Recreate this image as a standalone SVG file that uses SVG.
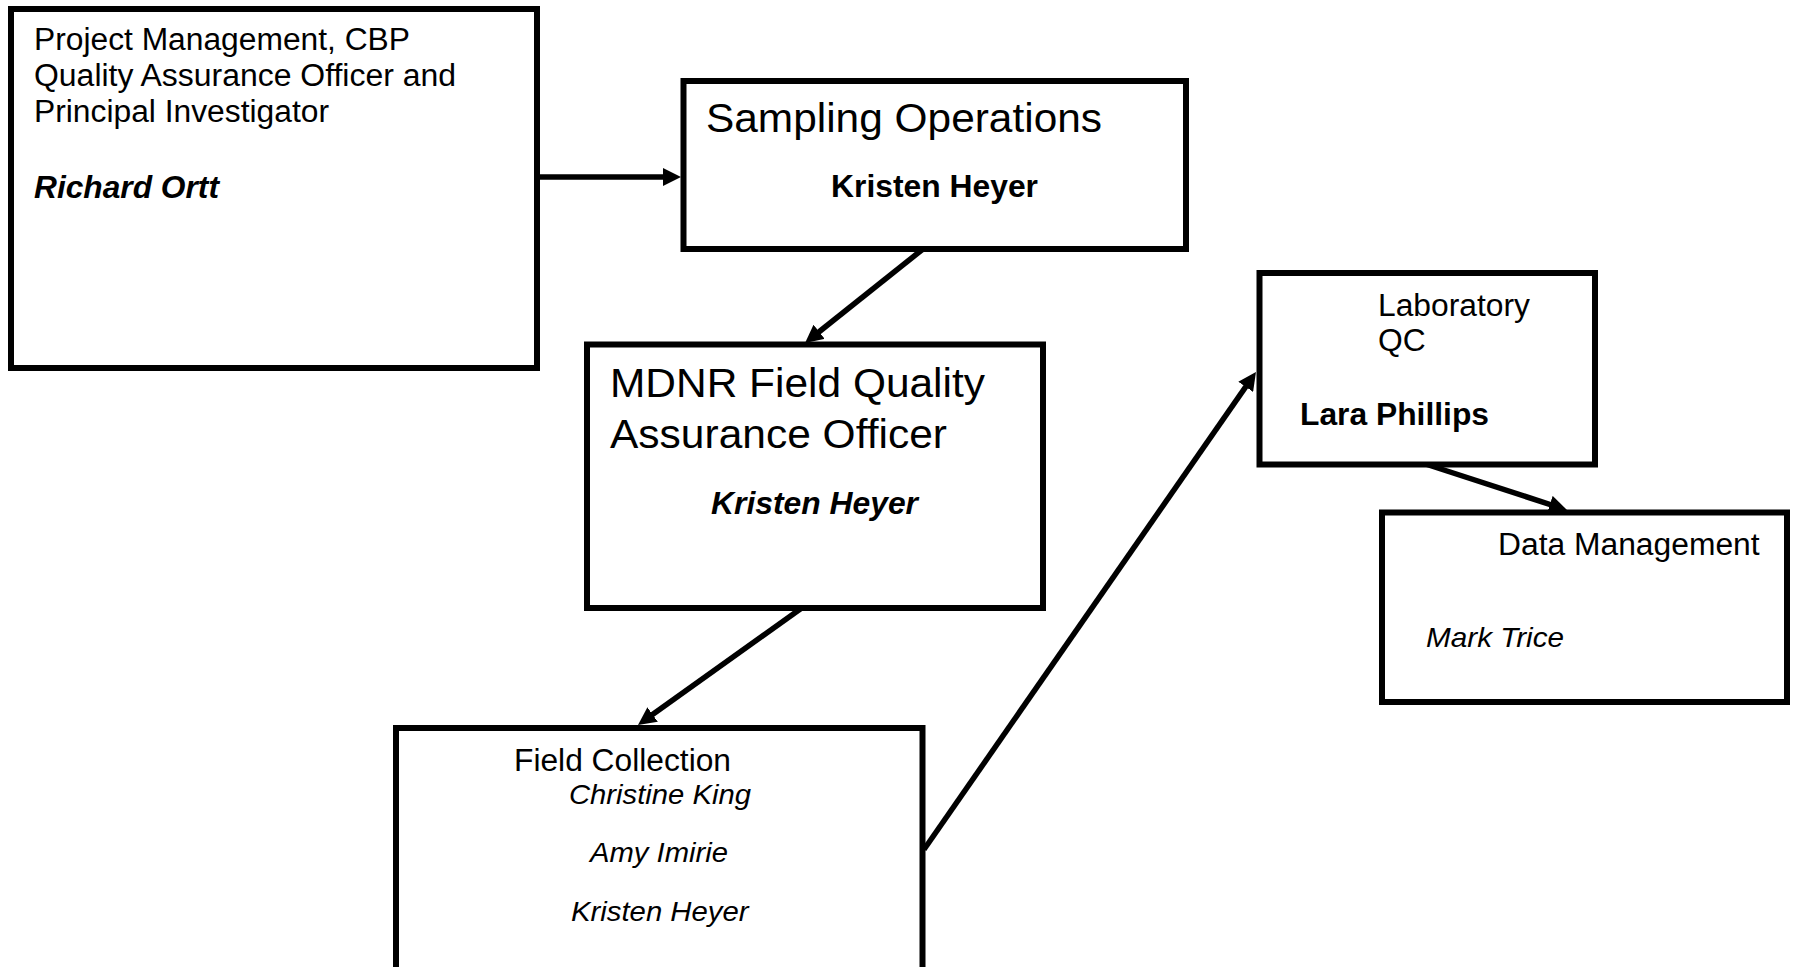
<svg xmlns="http://www.w3.org/2000/svg" width="1794" height="967" viewBox="0 0 1794 967">
<style>
.box{fill:#fff;stroke:#000;stroke-width:6}
.t{font-family:"Liberation Sans",Arial,sans-serif;font-size:31px;fill:#000}
.lg{font-size:41px}
.nm{font-size:28.5px}
.b{font-weight:bold}
.i{font-style:italic}
.conn{stroke:#000;stroke-width:5.5;fill:none;marker-end:url(#ah)}
</style>
<defs>
<marker id="ah" markerUnits="userSpaceOnUse" viewBox="0 0 18 18" refX="10" refY="9" markerWidth="18" markerHeight="18" orient="auto">
<path d="M0,0 L18,9 L0,18 Z" fill="#000"/>
</marker>
</defs>
<rect x="0" y="0" width="1794" height="967" fill="#fff"/>
<g id="node-pm">
<rect class="box" x="11" y="9" width="526" height="359"/>
<text class="t" x="34" y="50" textLength="376" lengthAdjust="spacingAndGlyphs">Project Management, CBP</text>
<text class="t" x="34" y="86" textLength="422" lengthAdjust="spacingAndGlyphs">Quality Assurance Officer and</text>
<text class="t" x="34" y="122" textLength="295" lengthAdjust="spacingAndGlyphs">Principal Investigator</text>
<text class="t b i" x="34" y="198" textLength="185" lengthAdjust="spacingAndGlyphs">Richard Ortt</text>
</g>
<g id="node-sampling">
<rect class="box" x="683.5" y="81" width="502.5" height="168"/>
<text class="t lg" x="706" y="132" textLength="396" lengthAdjust="spacingAndGlyphs">Sampling Operations</text>
<text class="t b" x="831" y="197" textLength="207" lengthAdjust="spacingAndGlyphs">Kristen Heyer</text>
</g>
<g id="node-mdnr">
<rect class="box" x="587" y="344.5" width="456" height="263.5"/>
<text class="t lg" x="610" y="397" textLength="375" lengthAdjust="spacingAndGlyphs">MDNR Field Quality</text>
<text class="t lg" x="610" y="448" textLength="337" lengthAdjust="spacingAndGlyphs">Assurance Officer</text>
<text class="t b i" x="711" y="514" textLength="207" lengthAdjust="spacingAndGlyphs">Kristen Heyer</text>
</g>
<g id="node-field">
<rect class="box" x="396" y="728" width="526.5" height="260"/>
<text class="t" x="514" y="771" textLength="217" lengthAdjust="spacingAndGlyphs">Field Collection</text>
<text class="t nm i" x="569" y="804" textLength="182" lengthAdjust="spacingAndGlyphs">Christine King</text>
<text class="t nm i" x="590" y="862" textLength="138" lengthAdjust="spacingAndGlyphs">Amy Imirie</text>
<text class="t nm i" x="571" y="921" textLength="177.5" lengthAdjust="spacingAndGlyphs">Kristen Heyer</text>
</g>
<g id="node-lab">
<rect class="box" x="1259.5" y="273" width="335.5" height="191.5"/>
<text class="t" x="1378" y="316" textLength="152" lengthAdjust="spacingAndGlyphs">Laboratory</text>
<text class="t" x="1378" y="351" textLength="47.7" lengthAdjust="spacingAndGlyphs">QC</text>
<text class="t b" x="1300" y="425" textLength="189" lengthAdjust="spacingAndGlyphs">Lara Phillips</text>
</g>
<g id="node-data">
<rect class="box" x="1382" y="512.5" width="405" height="189.5"/>
<text class="t" x="1498" y="555" textLength="261.6" lengthAdjust="spacingAndGlyphs">Data Management</text>
<text class="t nm i" x="1426" y="647" textLength="138" lengthAdjust="spacingAndGlyphs">Mark Trice</text>
</g>
<g id="connectors">
<line class="conn" x1="540" y1="177" x2="673" y2="177"/>
<line class="conn" x1="923" y1="249" x2="811.3" y2="338"/>
<line class="conn" x1="801.7" y1="608" x2="644.5" y2="720.3"/>
<line class="conn" x1="924" y1="849.5" x2="1251.4" y2="378.6"/>
<line class="conn" x1="1427" y1="464.5" x2="1559.4" y2="507.5"/>
</g>
</svg>
